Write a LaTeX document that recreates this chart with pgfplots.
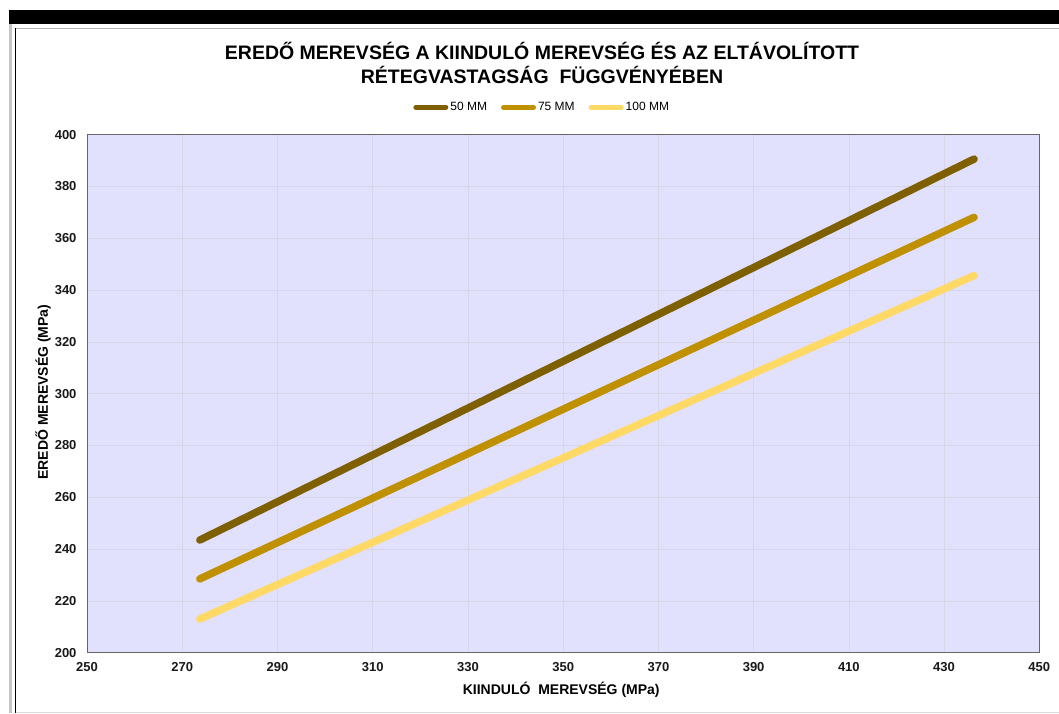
\documentclass[border=0pt]{standalone}
\usepackage{pgfplots}
\pgfplotsset{compat=1.18}
\usepackage{fontspec}
\setmainfont{Liberation Sans}

\definecolor{c50}{HTML}{7F6000}
\definecolor{c75}{HTML}{BF9000}
\definecolor{c100}{HTML}{FFD966}
\definecolor{plotbg}{RGB}{225,225,254}
\definecolor{gridc}{RGB}{214,214,232}

\begin{document}
\begin{tikzpicture}[x=1pt,y=1pt]
  % page frame
  \useasboundingbox[fill=white] (0,0) rectangle (1059,713);
  \fill[black] (9,689) rectangle (1059,703);
  \fill[gray!45] (9,0) rectangle (11.5,689);
  \draw[gray!60, line width=1pt] (15.5,684.5) -- (1059,684.5);
  \draw[black, line width=1.2pt] (15.5,684.5) -- (15.5,0);
  \draw[gray!30, line width=1pt] (15.5,0.5) -- (1059,0.5);

  % title
  \node[font=\bfseries\fontsize{19.5}{19.5}\selectfont] at (542,662) {EREDŐ MEREVSÉG A KIINDULÓ MEREVSÉG ÉS AZ ELTÁVOLÍTOTT};
  \node[font=\bfseries\fontsize{19.5}{19.5}\selectfont] at (542,638) {RÉTEGVASTAGSÁG\ \ FÜGGVÉNYÉBEN};

  \begin{axis}[
    at={(87pt,60.3pt)}, anchor=south west,
    width=952.3pt, height=518pt, scale only axis,
    xmin=250, xmax=450, ymin=200, ymax=400,
    xtick={250,270,...,450}, ytick distance=20,
    major tick length=0pt,
    grid=major,
    major grid style={gridc, line width=0.6pt},
    axis line style={gray!80!black, line width=0.8pt},
    axis background/.style={fill=plotbg},
    /pgf/number format/assume math mode=true,
    ticklabel style={font=\bfseries\fontsize{13}{13}\selectfont, text=black!90},
    yticklabel style={xshift=-7pt},
    xticklabel style={yshift=-6pt},
    xlabel={KIINDULÓ\ \ MEREVSÉG (MPa)},
    ylabel={EREDŐ MEREVSÉG (MPa)},
    label style={font=\bfseries\fontsize{14}{14}\selectfont},
    xlabel style={at={(axis description cs:0.498,-0.072)}, anchor=center},
    ylabel style={at={(axis description cs:-0.046,0.503)}, anchor=center},
    legend columns=3,
    legend style={at={(axis description cs:0.478,1.053)}, anchor=center,
      draw=none, fill=none, font=\fontsize{12}{12}\selectfont,
      /tikz/every even column/.append style={column sep=12pt}},
    legend image code/.code={\draw[#1, line width=5pt, line cap=round] (0pt,0pt) -- (30pt,0pt);},
    every axis plot/.append style={line width=7.5pt, line cap=round, mark=none},
  ]
    \addplot[c50] coordinates {(273.7,243.5) (436.3,390.6)};
    \addlegendentry{50 MM}
    \addplot[c75] coordinates {(273.7,228.5) (436.3,368.1)};
    \addlegendentry{75 MM}
    \addplot[c100] coordinates {(273.7,213.0) (436.3,345.6)};
    \addlegendentry{100 MM}
  \end{axis}
\end{tikzpicture}
\end{document}
